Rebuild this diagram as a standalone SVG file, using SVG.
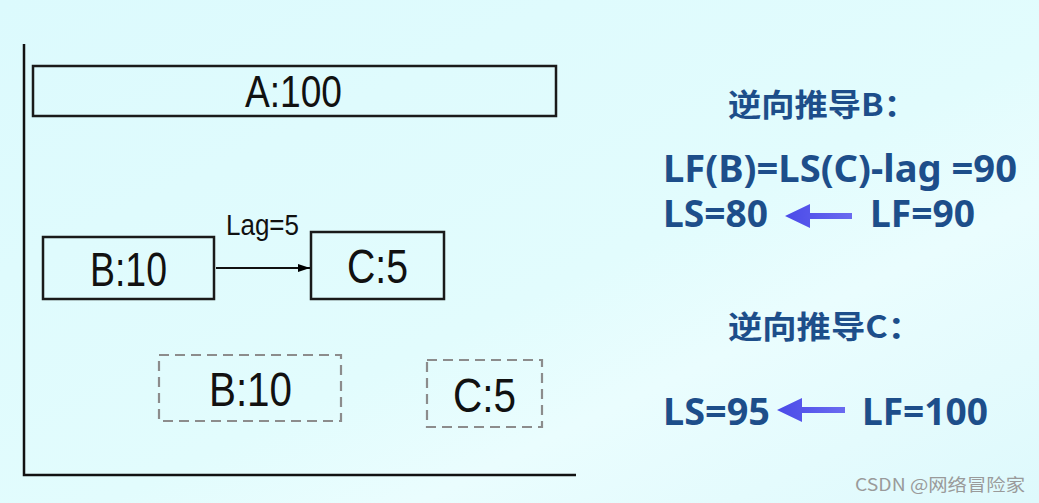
<svg xmlns="http://www.w3.org/2000/svg" width="1039" height="503" viewBox="0 0 1039 503">
  <defs>
    <linearGradient id="bg" x1="0" y1="0" x2="1" y2="1">
      <stop offset="0" stop-color="#dcfafd"/>
      <stop offset="0.55" stop-color="#e2fcfd"/>
      <stop offset="0.7" stop-color="#eafdfe"/>
      <stop offset="1" stop-color="#def9fc"/>
    </linearGradient>
    <marker id="ah" viewBox="0 0 12 10" refX="12" refY="5" markerWidth="12" markerHeight="10" markerUnits="userSpaceOnUse" orient="auto">
      <path d="M0,1 L12,5 L0,9 z" fill="#000"/>
    </marker>
    <linearGradient id="arr" x1="0" y1="0" x2="1" y2="0">
      <stop offset="0" stop-color="#4a4ae8"/>
      <stop offset="1" stop-color="#6a6af0"/>
    </linearGradient>
  </defs>
  <style>
    .box { fill: none; stroke: #1a1a1a; stroke-width: 2.5; }
    .dash { fill: none; stroke: #8c8c8c; stroke-width: 2.2; stroke-dasharray: 10 6; }
    .lbl { font-family: "Liberation Sans", Arial, sans-serif; fill: #111; }
    .rt { font-family: "Noto Sans CJK SC", "Noto Sans", sans-serif; font-weight: bold; fill: #1d4e8a; }
    .rl { font-family: "Noto Sans", "Open Sans", sans-serif; font-weight: bold; fill: #1d4e8a; }
    .axis { stroke: #111; stroke-width: 2.5; fill: none; }
    .barr { fill: url(#arr); }
  </style>
  <rect x="0" y="0" width="1039" height="503" fill="url(#bg)"/>

  <g id="axes">
    <path class="axis" d="M24,44 V475 H576"/>
  </g>

  <g id="nodeA">
    <rect class="box" x="33" y="66" width="523" height="50"/>
    <text class="lbl" x="245" y="107" font-size="44" textLength="97" lengthAdjust="spacingAndGlyphs">A:100</text>
  </g>

  <g id="nodeB">
    <rect class="box" x="43" y="237" width="171" height="62"/>
    <text class="lbl" x="90" y="286" font-size="48" textLength="77" lengthAdjust="spacingAndGlyphs">B:10</text>
  </g>

  <g id="nodeC">
    <rect class="box" x="311" y="232" width="133" height="67"/>
    <text class="lbl" x="347" y="283" font-size="48" textLength="61" lengthAdjust="spacingAndGlyphs">C:5</text>
  </g>

  <g id="nodeB2">
    <rect class="dash" x="159" y="355" width="182" height="66"/>
    <text class="lbl" x="209" y="406" font-size="48" textLength="83" lengthAdjust="spacingAndGlyphs">B:10</text>
  </g>

  <g id="nodeC2">
    <rect class="dash" x="427" y="360" width="115" height="67"/>
    <text class="lbl" x="453" y="412" font-size="48" textLength="63" lengthAdjust="spacingAndGlyphs">C:5</text>
  </g>

  <g id="connectors">
    <line x1="216" y1="268" x2="310" y2="268" stroke="#111" stroke-width="2" marker-end="url(#ah)"/>
    <text class="lbl" x="226" y="235" font-size="29" textLength="73" lengthAdjust="spacingAndGlyphs">Lag=5</text>
  </g>

  <g id="deriveB">
    <text class="rt" x="728" y="116" font-size="31" textLength="189" lengthAdjust="spacingAndGlyphs">逆向推导B：</text>
    <text class="rl" x="663" y="182" font-size="38" textLength="354" lengthAdjust="spacingAndGlyphs">LF(B)=LS(C)-lag =90</text>
    <text class="rl" x="663" y="227" font-size="38" textLength="105" lengthAdjust="spacingAndGlyphs">LS=80</text>
    <path class="barr" d="M785,216 L810,204 L810,213 L852,213 L852,219 L810,219 L810,228 Z"/>
    <text class="rl" x="870" y="227" font-size="38" textLength="105" lengthAdjust="spacingAndGlyphs">LF=90</text>
  </g>

  <g id="deriveC">
    <text class="rt" x="728" y="338" font-size="31" textLength="194" lengthAdjust="spacingAndGlyphs">逆向推导C：</text>
    <text class="rl" x="663" y="425" font-size="38" textLength="107" lengthAdjust="spacingAndGlyphs">LS=95</text>
    <path class="barr" d="M777,410 L802,398 L802,407 L845,407 L845,413 L802,413 L802,422 Z"/>
    <text class="rl" x="862" y="425" font-size="38" textLength="126" lengthAdjust="spacingAndGlyphs">LF=100</text>
  </g>

  <g id="watermark">
    <text x="855" y="491" font-family="'Noto Sans CJK SC', 'Noto Sans', sans-serif" font-size="17" fill="#9a9a9a" textLength="170" lengthAdjust="spacingAndGlyphs">CSDN @网络冒险家</text>
  </g>
</svg>
